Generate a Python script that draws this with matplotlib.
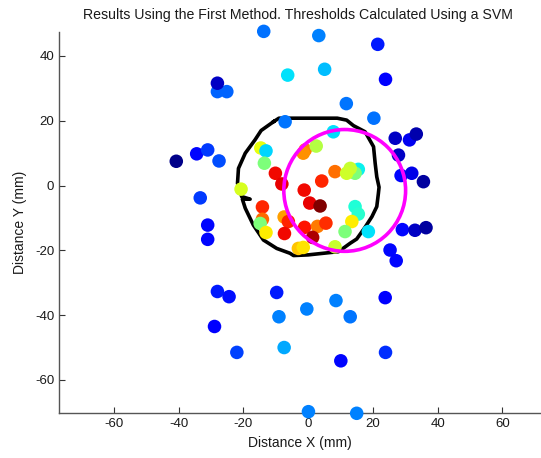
"""First-method results: detected points coloured by value, SVM threshold contour and fitted circle."""

import matplotlib

matplotlib.use("Agg")
import matplotlib.pyplot as plt
from matplotlib.patches import Circle

plt.rcParams["font.family"] = ["Liberation Sans", "DejaVu Sans"]
plt.rcParams["axes.unicode_minus"] = False

# point positions (mm) and colour value (jet, 0..1)
point_x = [
    -13.7, 3.3, 21.5, -6.3, 5.1, 23.9, -28.0, -25.1, -28.0, 11.8, 20.3, -7.1,
    -40.7, -34.4, -31.0, -27.5, -33.3, -31.0, -31.0,
    26.9, 31.3, 33.4, 27.9, 28.7, 32.0, 35.6, 29.1, 33.0, 36.4, 25.3, 27.2,
    -28.0, -24.4, -9.7, -0.4, 8.6, 13.0, -9.0, 23.8, -28.9, -22.0, -7.4, 10.1, 23.9, 0.1, 15.0,
    -14.6, -13.0, -13.5, -10.1, -8.1, -20.7, -1.2, 4.2, 0.5, 3.7, -14.1, -14.1, -14.8, -13.0,
    -7.4, -6.1, -7.3, -1.1, 2.9, 5.5, 1.4, -3.0, -1.5, -0.9, -1.5, 2.5, 7.8, 8.3,
    15.5, 14.5, 13.0, 11.9, 14.5, 15.5, 13.5, 11.4, 18.6, 8.3,
]
point_y = [
    47.6, 46.3, 43.6, 34.1, 35.9, 32.8, 29.0, 29.0, 31.6, 25.3, 20.8, 19.7,
    7.5, 9.8, 11.0, 7.6, -3.8, -12.2, -16.6,
    14.6, 14.1, 15.9, 9.4, 3.1, 3.8, 1.2, -13.6, -13.8, -13.0, -19.9, -23.2,
    -32.7, -34.3, -33.0, -38.1, -35.5, -40.5, -40.5, -34.6, -43.5, -51.5, -50.0, -54.1, -51.5, -69.8, -70.3,
    11.6, 10.7, 6.9, 3.8, 0.5, -1.1, -1.4, 1.4, -5.4, -6.3, -6.6, -10.4, -11.7, -14.5,
    -9.7, -11.1, -14.8, -12.9, -12.6, -11.6, -16.0, -19.4, -19.1, 11.0, 10.0, 12.2, 16.6, 4.3,
    5.0, 3.8, 5.3, 3.8, -6.5, -8.8, -11.1, -14.2, -14.2, -18.9,
]
point_value = [
    0.235, 0.25, 0.15, 0.345, 0.31, 0.12, 0.225, 0.225, 0.06, 0.24, 0.235, 0.24,
    0.01, 0.13, 0.18, 0.2, 0.18, 0.13, 0.13,
    0.06, 0.10, 0.04, 0.06, 0.13, 0.09, 0.03, 0.13, 0.06, 0.03, 0.13, 0.13,
    0.15, 0.14, 0.15, 0.25, 0.25, 0.24, 0.25, 0.11, 0.11, 0.19, 0.29, 0.13, 0.17, 0.25, 0.25,
    0.63, 0.335, 0.5, 0.9, 0.91, 0.61, 0.9, 0.87, 0.91, 1.0, 0.87, 0.8, 0.5, 0.66,
    0.74, 0.87, 0.9, 0.89, 0.78, 0.86, 0.96, 0.7, 0.67, 0.77, 0.755, 0.57, 0.345, 0.79,
    0.36, 0.5, 0.59, 0.6, 0.39, 0.4, 0.66, 0.5, 0.345, 0.59,
]

# threshold contour from the SVM (mm)
contour_x = [
    -10.7, -9.0, 0.0, 9.0, 11.9, 14.0, 17.6, 20.2, 20.7, 21.2, 21.9, 21.7, 21.2, 19.7,
    17.5, 15.0, 13.0, 9.4, 4.7, 0.0, -4.5, -5.6, -9.7, -13.8, -16.9, -19.4, -20.3, -17.9,
    -20.5, -21.8, -21.5, -19.4, -16.4, -14.5, -10.7,
]
contour_y = [
    19.7, 20.8, 20.8, 20.8, 20.2, 18.5, 16.6, 12.0, 6.9, 2.7, -0.5, -2.4, -6.5, -9.6,
    -13.0, -16.5, -17.8, -20.4, -20.9, -21.4, -21.6, -20.9, -19.4, -16.8, -12.2, -7.0, -4.2, -4.2,
    -3.4, 0.7, 5.3, 10.0, 14.1, 17.0, 19.7,
]

circle_center = (11.3, -1.5)
circle_radius = 18.8

x_ticks = [-60, -40, -20, 0, 20, 40, 60]
y_ticks = [-60, -40, -20, 0, 20, 40]

figure = plt.figure(figsize=(5.41, 4.58), dpi=100)
axis = figure.add_axes([0.1091, 0.0976, 0.8909, 0.8332])

axis.plot(contour_x, contour_y, color="black", linewidth=2.6, zorder=2, clip_on=False)
axis.scatter(
    point_x, point_y, c=point_value, cmap="jet", vmin=0, vmax=1,
    s=95, linewidths=0, zorder=3, clip_on=False,
)
axis.add_patch(
    Circle(circle_center, circle_radius, fill=False, edgecolor="#ff00ff", linewidth=2.6, zorder=4)
)

axis.set_xlim(-76.9, 71.9)
axis.set_ylim(-70.3, 47.5)
axis.set_xticks(x_ticks)
axis.set_yticks(y_ticks)
axis.tick_params(direction="in", length=4, width=0.8, colors="#333333", labelsize=9.5,
                 labelcolor="#1a1a1a")
for side in ["top", "right"]:
    axis.spines[side].set_visible(False)
for side in ["left", "bottom"]:
    axis.spines[side].set_color("#555555")
    axis.spines[side].set_linewidth(1.0)

axis.set_xlabel("Distance X (mm)", fontsize=10, color="#1a1a1a", labelpad=4)
axis.set_ylabel("Distance Y (mm)", fontsize=10, color="#1a1a1a", labelpad=6)
figure.text(0.551, 0.967, "Results Using the First Method. Thresholds Calculated Using a SVM",
            ha="center", va="center", fontsize=10.2, color="#1a1a1a")

figure.savefig("out.png", dpi=100)
